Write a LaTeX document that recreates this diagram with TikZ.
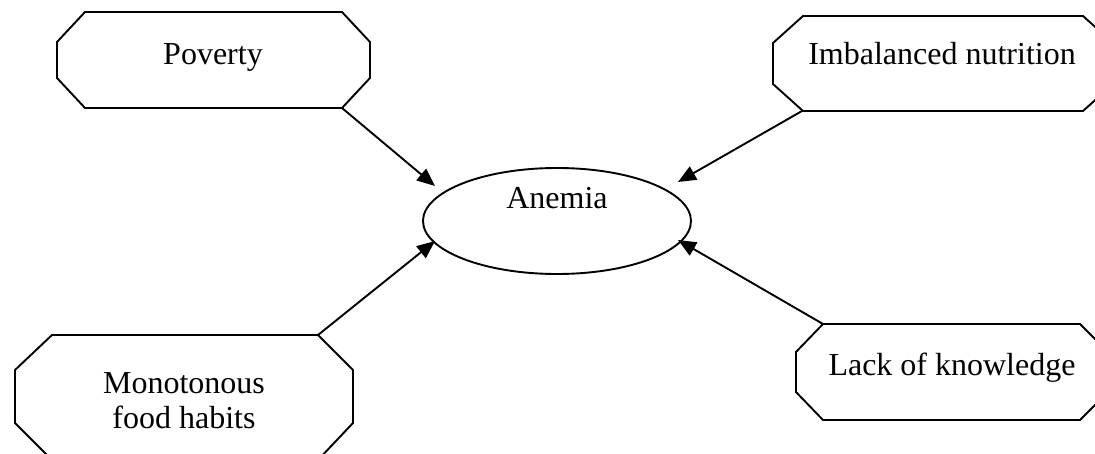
\documentclass[tikz,border=0pt]{standalone}
\usepackage{fontspec}
\setmainfont{Liberation Serif}
\usetikzlibrary{arrows.meta,shapes.geometric}
\begin{document}
\begin{tikzpicture}[x=1pt,y=-1pt,
  box/.style={draw,line width=1.9pt,line join=miter},
  lbl/.style={font=\fontsize{32}{35}\selectfont,inner sep=0pt},
  conn/.style={line width=1.9pt,-{Triangle[length=18pt,width=15pt]}}]
\useasboundingbox (0,0) rectangle (1095,454);
\clip (0,0) rectangle (1095,454);
% Poverty
\draw[box] (85,12) -- (342,12) -- (370,42) -- (370,78) -- (342,108) -- (85,108) -- (57,78) -- (57,42) -- cycle;
\node[lbl,anchor=base] (poverty) at (213,65) {Poverty};
\coordinate (povout) at (342,108);
% Imbalanced nutrition
\draw[box] (803,16) -- (1083,16) -- (1113,43) -- (1113,84) -- (1083,111) -- (803,111) -- (773,84) -- (773,43) -- cycle;
\node[lbl,anchor=base] (imbal) at (942,65) {Imbalanced nutrition};
\coordinate (imbout) at (802,111);
% Monotonous food habits
\draw[box] (52,335) -- (318,335) -- (353,370) -- (353,423) -- (318,460) -- (52,460) -- (15,423) -- (15,370) -- cycle;
\node[lbl,align=center] (mono) at (184,401) {Monotonous\\food habits};
\coordinate (monout) at (318,335);
% Lack of knowledge
\draw[box] (823,324) -- (1080,324) -- (1108,352) -- (1108,392) -- (1080,420) -- (823,420) -- (796,392) -- (796,352) -- cycle;
\node[lbl,anchor=base] (lack) at (952,375) {Lack of knowledge};
\coordinate (lackout) at (823,324);
% Anemia
\node[draw,ellipse,line width=1.9pt,minimum width=268pt,minimum height=106pt,inner sep=0pt] (anemia) at (557,221) {};
\node[lbl,anchor=base] (anemialbl) at (557,209) {Anemia};
\coordinate (tpov) at (435,186);
\coordinate (timb) at (678,182);
\coordinate (tmono) at (435,241);
\coordinate (tlack) at (678,240);
\draw[conn] (povout) -- (tpov);
\draw[conn] (imbout) -- (timb);
\draw[conn] (monout) -- (tmono);
\draw[conn] (lackout) -- (tlack);
\end{tikzpicture}
\end{document}
